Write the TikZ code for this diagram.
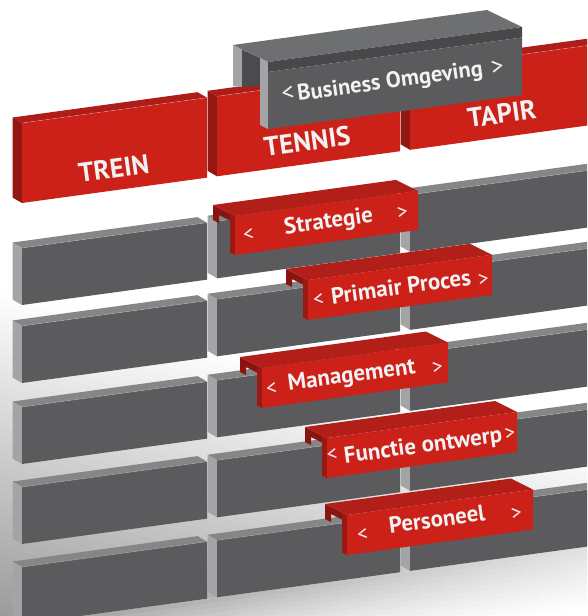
\documentclass[tikz,border=0pt]{standalone}
\usepackage{fontspec}
\setmainfont{PT Sans}
\definecolor{gfront}{HTML}{5B5B5D}
\definecolor{gside}{HTML}{A3A4A6}
\definecolor{gtop}{HTML}{858688}
\definecolor{rfront}{HTML}{CC2119}
\definecolor{rside}{HTML}{931812}
\definecolor{rtop}{HTML}{AE1D17}
\definecolor{ltop}{HTML}{B21F18}
\definecolor{lside}{HTML}{9A1913}
\definecolor{lhook}{HTML}{8A1510}
\definecolor{btop}{HTML}{6E6F71}
\definecolor{bstrip}{HTML}{48484A}
\definecolor{binner}{HTML}{4B4B4D}
\definecolor{txt}{HTML}{F2F2F2}
\newcommand\wallblock[7]{%
 \pgfmathsetmacro\wbR{#1+#3}%
 \pgfmathsetmacro\wbT{#2-0.137*#3}%
 \fill[#7] (#1,#2) -- (#1-9.5,#2-5.5) -- (\wbR-9.5,\wbT-5.5) -- (\wbR,\wbT) -- cycle;
 \fill[#6] (#1,#2) -- (#1-9.5,#2-5.5) -- (#1-9.5,#2-5.5+#4) -- (#1,#2+#4) -- cycle;
 \fill[#5] (#1,#2) -- (\wbR,\wbT) -- (\wbR,\wbT+#4) -- (#1,#2+#4) -- cycle;
 \draw[white, opacity=0.3, line width=0.5pt] (#1,#2) -- (\wbR,\wbT);
}
\newcommand\labeltab[4]{%
 \pgfmathsetmacro\tbT{#2-0.137*(#3-#1)}%
 \fill[lhook] (#1-22,#2-11) -- (#1-5,#2-2.5) -- (#1-5,#2+4.5) -- (#1-16,#2-1) -- (#1-16,#2+7) -- (#1-22,#2+4) -- cycle;
 \fill[ltop] (#1,#2) -- (#3,\tbT) -- (#3-22,\tbT-11) -- (#1-22,#2-11) -- cycle;
 \fill[lside] (#1,#2) -- (#1-5,#2-2.5) -- (#1-5,#2-2.5+#4) -- (#1,#2+#4) -- cycle;
 \fill[rfront] (#1,#2) -- (#3,\tbT) -- (#3,\tbT+#4) -- (#1,#2+#4) -- cycle;
}
\begin{document}
\begin{tikzpicture}[x=1pt,y=-1pt,
  lbl/.style={text=txt, font=\bfseries\fontsize{23}{23}\selectfont, inner sep=0pt, anchor=base, rotate=7.8},
  ttl/.style={text=txt, font=\bfseries\fontsize{27}{27}\selectfont, inner sep=0pt, anchor=base, rotate=7.8},
  chev/.style={text=txt, font=\fontsize{21}{21}\selectfont, inner sep=0pt, rotate=7.8},
  bchev/.style={text=txt, font=\fontsize{25}{25}\selectfont, inner sep=0pt, rotate=7.8}]
\useasboundingbox (0,0) rectangle (587,616);
\begin{scope}
\clip (0,0) rectangle (587,616);
% background shadow behind the wall
\begin{scope}
\clip (0,0) -- (587,0) -- (587,546.6) -- (0,627) -- cycle;
\foreach \u in {290,298,...,634} {
  \pgfmathsetmacro\p{min(40,0.12*(\u+4-290))}
  \fill[black!\p] (-5,\u-1.35) -- (592,\u+159.8) -- (592,\u+168.8) -- (-5,\u+7.65) -- cycle;
}
\end{scope}
\foreach \d in {0,5,...,60} {
  \pgfmathsetmacro\f{max(0,1-(\d+2.5)/62)}
  \pgfmathsetmacro\pl{40*\f}
  \pgfmathsetmacro\pr{12*\f}
  \shade[left color=black!\pl, right color=black!\pr] (0,627+\d) -- (587,546.6+\d) -- (587,552.6+\d) -- (0,633+\d) -- cycle;
}
% red row
\wallblock{22}{123}{185}{80}{rfront}{rside}{rtop}
\wallblock{217}{96.3}{183}{80}{rfront}{rside}{rtop}
\wallblock{410}{69.8}{200}{80}{rfront}{rside}{rtop}
\node[ttl] (trein) at (115,177.5) {TREIN};
\node[ttl] (tennis) at (308.5,150.8) {TENNIS};
\node[ttl] (tapir) at (503,123.3) {TAPIR};
% business box
\fill[gside] (233,45) -- (242,49.5) -- (242,87) -- (233,86) -- cycle;
\fill[binner] (242,49.5) -- (260,58) -- (260,86) -- (242,87) -- cycle;
\fill[btop] (233,45) -- (487,10) -- (522,27) -- (268,62) -- cycle;
\fill[gside] (260,58) -- (268,62) -- (268,129) -- (260,125) -- cycle;
\fill[bstrip] (268,62) -- (522,27) -- (522,37.5) -- (268,72) -- cycle;
\fill[gfront] (268,72) -- (522,37.5) -- (522,95) -- (268,129) -- cycle;
\node[bchev] (bl) at (288,93.5) {<};
\node[bchev] (br) at (497.5,68) {>};
\node[lbl, font=\bfseries\fontsize{22.5}{22.5}\selectfont] (bus) at (391,88.3) {Business Omgeving};
% gray rows
\foreach \r in {248,326,407,487,567} {
  \foreach \cx/\cw in {22/185,217/183,410/200} {
    \pgfmathsetmacro\yy{\r-0.137*(\cx-22)}
    \wallblock{\cx}{\yy}{\cw}{57}{gfront}{gside}{gtop}
  }
}
% label tabs
\labeltab{235}{216}{418}{39}
\labeltab{308}{280}{492}{40}
\labeltab{262}{368}{448}{40}
\labeltab{327}{438}{517}{40}
\labeltab{347}{515}{533}{40}
\node[lbl] (l1) at (329.5,228) {Strategie};
\node[chev] (l1a) at (248.5,235) {<};
\node[chev] (l1b) at (402.5,213) {>};
\node[lbl] (l2) at (402,294.5) {Primair Proces};
\node[chev] (l2a) at (318.5,300) {<};
\node[chev] (l2b) at (483.5,280) {>};
\node[lbl] (l3) at (352.5,382) {Management};
\node[chev] (l3a) at (271.5,388.5) {<};
\node[chev] (l3b) at (437.5,367.5) {>};
\node[lbl] (l4) at (424,452.5) {Functie ontwerp};
\node[chev] (l4a) at (332,454.5) {<};
\node[chev] (l4b) at (510,433.5) {>};
\node[lbl] (l5) at (438,527) {Personeel};
\node[chev] (l5a) at (362.5,535) {<};
\node[chev] (l5b) at (516.5,513.5) {>};
\end{scope}
\end{tikzpicture}
\end{document}
